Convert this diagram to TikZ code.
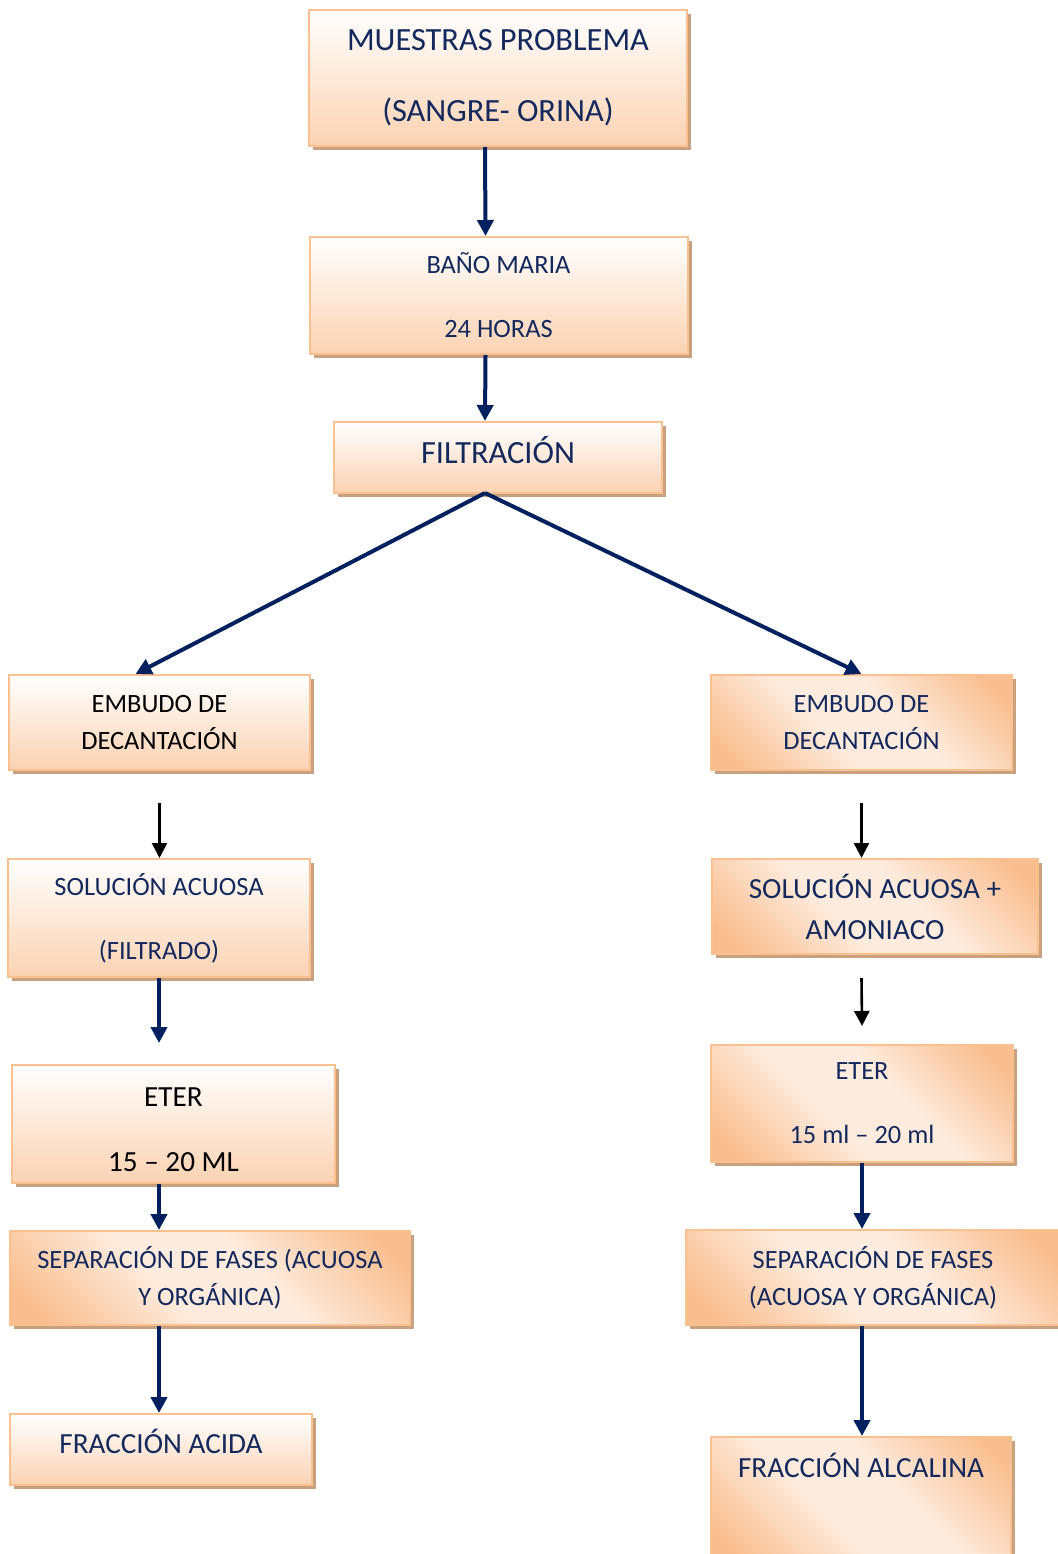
\documentclass[tikz,border=0pt]{standalone}
\usepackage{fontspec}
\setmainfont{Carlito}
\usetikzlibrary{arrows.meta,shadows}
\definecolor{txtNavy}{HTML}{13295E}
\definecolor{arrNavy}{HTML}{002060}
\definecolor{bord}{HTML}{FAC090}
\definecolor{pv}{HTML}{FBD2B2}
\definecolor{pd}{HTML}{F9BE8F}
\definecolor{pl}{HTML}{FDEBDD}
\definecolor{shc}{HTML}{C9A17F}
\pgfdeclarehorizontalshading{diagpeach}{100bp}{color(0bp)=(pd); color(20bp)=(pd); color(42bp)=(pl); color(58bp)=(pl); color(80bp)=(pd); color(100bp)=(pd)}
\begin{document}
\begin{tikzpicture}[x=1pt,y=-1pt,
  box/.style={draw=bord, line width=2pt, rectangle, align=center, inner sep=0pt, text=txtNavy,
    general shadow={fill=shc, shadow xshift=4pt, shadow yshift=-4pt}},
  vgrad/.style={top color=white, bottom color=pv},
  dgrad/.style={shading=diagpeach, shading angle=45},
  fA/.style={font=\fontsize{26.4}{#1}\selectfont},
  fB/.style={font=\fontsize{29.2}{#1}\selectfont},
  fC/.style={font=\fontsize{32.4}{#1}\selectfont},
  navarr/.style={draw=arrNavy, line width=4pt, -{Triangle[width=16pt,length=16pt]}},
  blkarr/.style={draw=black, line width=2.6pt, -{Triangle[width=15pt,length=15pt]}}]
\useasboundingbox (0,0) rectangle (1057,1554);

\node[box,vgrad,fC=71,minimum width=378pt,minimum height=136pt] (m1) at (498,78) {MUESTRAS PROBLEMA\\(SANGRE- ORINA)};
\node[box,vgrad,fA=64,minimum width=378pt,minimum height=117pt] (m2) at (498.5,295.5) {BAÑO MARIA\\24 HORAS};
\node[box,vgrad,fC=36,text height=20pt,text depth=9pt,minimum width=328pt,minimum height=71pt] (m3) at (498,457.5) {FILTRACIÓN};

\node[box,vgrad,fA=37,text=black,minimum width=301pt,minimum height=95pt] (l1) at (159.5,722.5) {EMBUDO DE\\DECANTACIÓN};
\node[box,dgrad,fA=37,minimum width=301pt,minimum height=95pt] (r1) at (861.5,722.5) {EMBUDO DE\\DECANTACIÓN};

\node[box,vgrad,fA=64,minimum width=302pt,minimum height=118pt] (l2) at (159,918) {SOLUCIÓN ACUOSA\\(FILTRADO)};
\node[box,dgrad,fB=41,minimum width=326pt,minimum height=95pt] (r2) at (875,906.5) {SOLUCIÓN ACUOSA +\\AMONIACO};

\node[box,vgrad,fB=65,text=black,text height=100pt,text depth=5.4pt,minimum width=323pt,minimum height=118pt] (l3) at (173.5,1124) {ETER\\15 – 20 ML};
\node[box,dgrad,fA=64,minimum width=302pt,minimum height=117pt] (r3) at (862,1103.5) {ETER\\15 ml – 20 ml};

\node[box,dgrad,fA=37,minimum width=400pt,minimum height=94pt] (l4) at (210,1278) {SEPARACIÓN DE FASES (ACUOSA\\Y ORGÁNICA)};
\node[box,dgrad,fA=37,minimum width=374pt,minimum height=95pt] (r4) at (873,1277.5) {SEPARACIÓN DE FASES\\(ACUOSA Y ORGÁNICA)};

\node[box,vgrad,fB=35,text height=18pt,text depth=10.4pt,minimum width=302pt,minimum height=71pt] (l5) at (161,1449.5) {FRACCIÓN ACIDA};
\node[box,dgrad,fB=35,text height=18pt,text depth=62.4pt,minimum width=300pt,minimum height=125pt] (r5) at (861,1499.5) {FRACCIÓN ALCALINA};

\draw[navarr] ([xshift=-13pt]m1.south) -- ([xshift=-13pt]m2.north);
\draw[navarr] ([xshift=-13pt]m2.south) -- ([xshift=-13pt]m3.north);
\draw[navarr] ([xshift=-13pt,yshift=1pt]m3.south) -- ([xshift=-24pt]l1.north);
\draw[navarr] ([xshift=-13pt,yshift=1pt]m3.south) -- (r1.north);

\draw[blkarr] ([yshift=-32pt]l1.south) -- (l2.north -| l1.south);
\draw[blkarr] ([yshift=-32pt]r1.south) -- (r2.north -| r1.south);
\draw[navarr] (l2.south) -- ([yshift=21pt]l3.north -| l2.south);
\draw[blkarr] ([yshift=-23pt]r2.south -| r1.south) -- ([yshift=18pt]r3.north);
\draw[navarr] (l3.south -| l2.south) -- (l4.north -| l2.south);
\draw[navarr] (r3.south) -- (r4.north -| r3.south);
\draw[navarr] (l4.south -| l2.south) -- (l5.north -| l2.south);
\draw[navarr] (r4.south -| r3.south) -- (r5.north -| r3.south);
\end{tikzpicture}
\end{document}
